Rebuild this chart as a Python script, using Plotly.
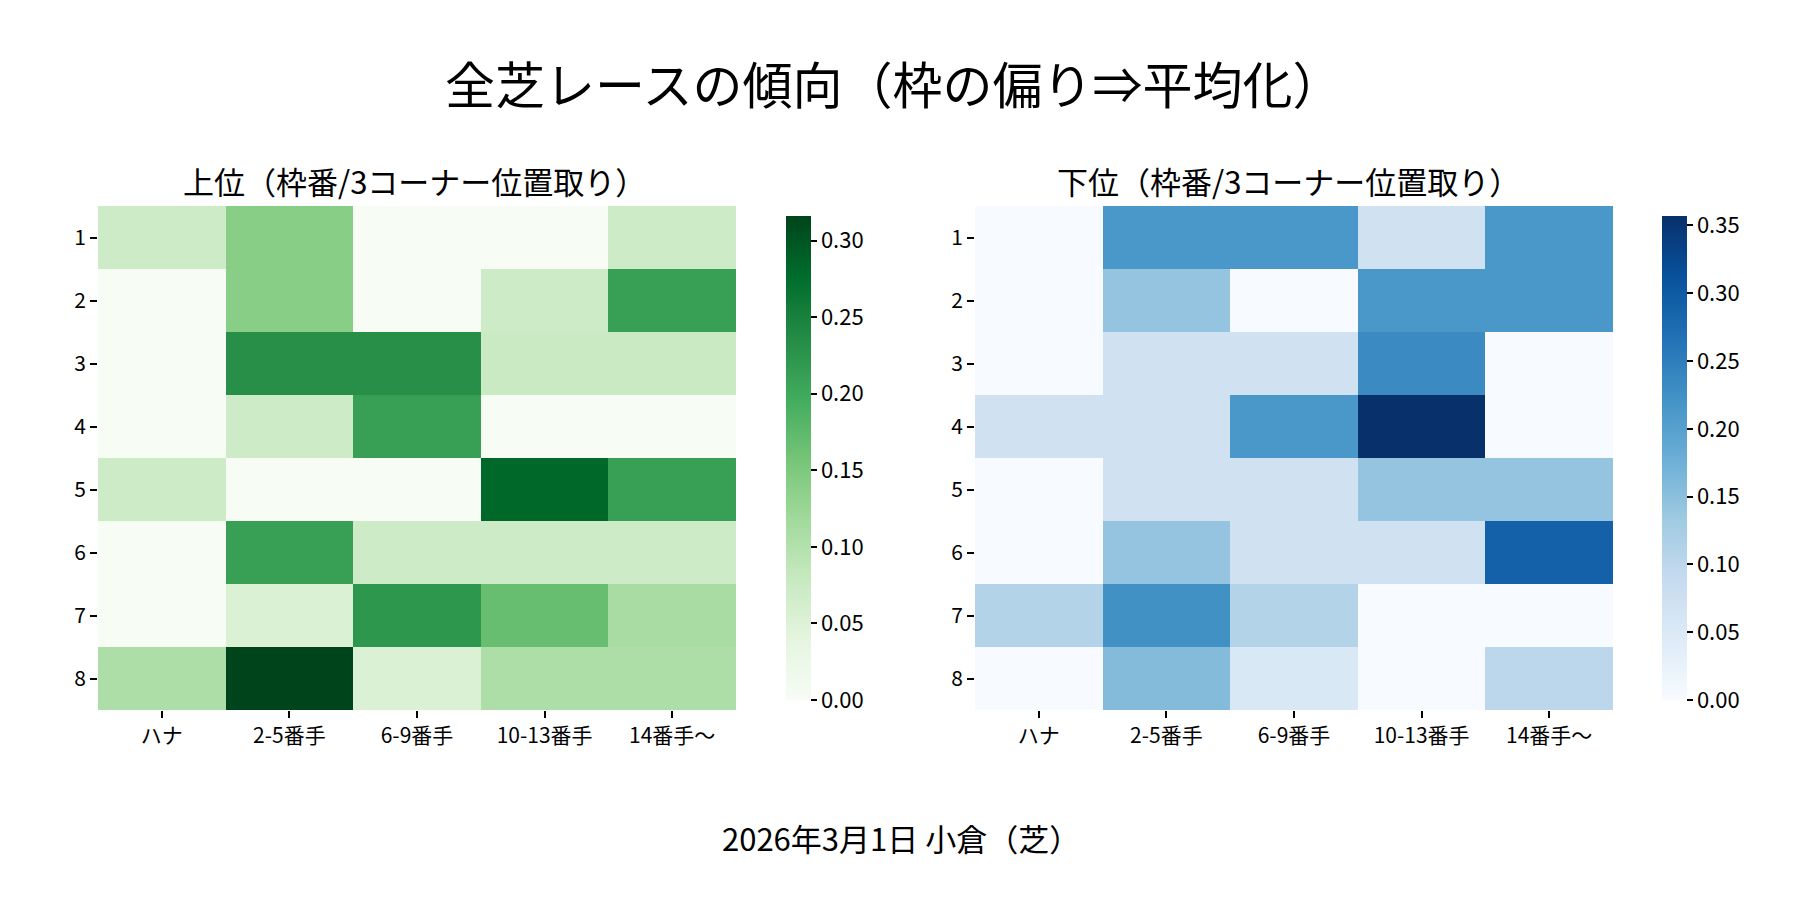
import plotly.graph_objects as go

# 行: 枠番, 列: 3コーナー位置取り
waku = ["1", "2", "3", "4", "5", "6", "7", "8"]
positions = ["ハナ", "2-5番手", "6-9番手", "10-13番手", "14番手～"]

# 上位（割合）
upper = [
    [0.072, 0.140, 0.000, 0.000, 0.072],
    [0.000, 0.140, 0.000, 0.072, 0.211],
    [0.000, 0.232, 0.232, 0.076, 0.076],
    [0.000, 0.072, 0.211, 0.000, 0.000],
    [0.072, 0.000, 0.000, 0.280, 0.211],
    [0.000, 0.211, 0.072, 0.072, 0.072],
    [0.000, 0.054, 0.222, 0.167, 0.110],
    [0.105, 0.316, 0.054, 0.105, 0.105],
]

# 下位（割合）
lower = [
    [0.000, 0.214, 0.214, 0.071, 0.214],
    [0.000, 0.143, 0.000, 0.214, 0.214],
    [0.000, 0.071, 0.071, 0.233, 0.000],
    [0.071, 0.071, 0.214, 0.357, 0.000],
    [0.000, 0.071, 0.071, 0.143, 0.143],
    [0.000, 0.143, 0.071, 0.071, 0.290],
    [0.110, 0.225, 0.110, 0.000, 0.000],
    [0.000, 0.157, 0.054, 0.000, 0.100],
]

cbar_ticks_upper = [0.00, 0.05, 0.10, 0.15, 0.20, 0.25, 0.30]
cbar_ticks_lower = [0.00, 0.05, 0.10, 0.15, 0.20, 0.25, 0.30, 0.35]

# matplotlib の Greens / Blues に合わせたカラースケール
greens = ["#f7fcf5", "#e5f5e0", "#c7e9c0", "#a1d99b", "#74c476",
          "#41ab5d", "#238b45", "#006d2c", "#00441b"]
blues = ["#f7fbff", "#deebf7", "#c6dbef", "#9ecae1", "#6baed6",
         "#4292c6", "#2171b5", "#08519c", "#08306b"]


def scale(cols):
    n = len(cols) - 1
    return [[i / n, c] for i, c in enumerate(cols)]


FONT = "Noto Sans CJK JP"
W, H = 1800, 900

fig = go.Figure()


def cbar(x, ticks):
    return dict(
        x=x, xanchor="left", y=(H - 702) / H, yanchor="bottom",
        len=504 / H, lenmode="fraction", thickness=25,
        outlinewidth=0, tickvals=ticks, tickformat=".2f",
        ticks="outside", ticklen=6, tickwidth=1.5, tickcolor="black",
        tickfont=dict(family=FONT, size=22, color="black"),
    )


fig.add_trace(go.Heatmap(
    z=upper, x=positions, y=waku, xaxis="x", yaxis="y",
    colorscale=scale(greens), zmin=0, zmax=max(max(r) for r in upper),
    colorbar=cbar(768 / W, cbar_ticks_upper),
))
fig.add_trace(go.Heatmap(
    z=lower, x=positions, y=waku, xaxis="x2", yaxis="y2",
    colorscale=scale(blues), zmin=0, zmax=max(max(r) for r in lower),
    colorbar=cbar(1644 / W, cbar_ticks_lower),
))

axis_common = dict(
    showgrid=False, zeroline=False, showline=False,
    ticks="outside", ticklen=7, tickwidth=1.5, tickcolor="black",
    tickfont=dict(family=FONT, size=21, color="black"),
)
ydom = [(H - 702) / H, (H - 198) / H]

fig.update_layout(
    width=W, height=H,
    margin=dict(l=0, r=0, t=0, b=0),
    paper_bgcolor="white", plot_bgcolor="white",
    font=dict(family=FONT, color="black"),
    xaxis=dict(domain=[90 / W, 728 / W], anchor="y", type="category", **axis_common),
    yaxis=dict(domain=ydom, anchor="x", type="category", autorange="reversed", **axis_common),
    xaxis2=dict(domain=[967 / W, 1605 / W], anchor="y2", type="category", **axis_common),
    yaxis2=dict(domain=ydom, anchor="x2", type="category", autorange="reversed", **axis_common),
    annotations=[
        dict(text="全芝レースの傾向（枠の偏り⇒平均化）", x=886 / W, y=1 - 74 / H,
             xref="paper", yref="paper", showarrow=False,
             xanchor="center", yanchor="middle", font=dict(size=50, family=FONT)),
        dict(text="上位（枠番/3コーナー位置取り）", x=406 / W, y=1 - 172 / H,
             xref="paper", yref="paper", showarrow=False,
             xanchor="center", yanchor="middle", font=dict(size=31, family=FONT)),
        dict(text="下位（枠番/3コーナー位置取り）", x=1280 / W, y=1 - 172 / H,
             xref="paper", yref="paper", showarrow=False,
             xanchor="center", yanchor="middle", font=dict(size=31, family=FONT)),
        dict(text="2026年3月1日 小倉（芝）", x=893 / W, y=1 - 829 / H,
             xref="paper", yref="paper", showarrow=False,
             xanchor="center", yanchor="middle", font=dict(size=31, family=FONT)),
    ],
)

fig.write_html("out.html")
